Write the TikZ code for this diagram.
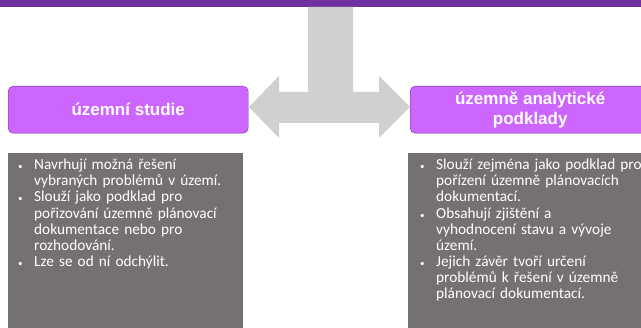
\documentclass[tikz,border=0pt]{standalone}
\usepackage{fontspec}
\setmainfont{Carlito}
\newfontfamily\headfont{Liberation Sans}
\usetikzlibrary{positioning,calc}
\definecolor{barpurple}{HTML}{7030A0}
\definecolor{boxviolet}{HTML}{CC66FF}
\definecolor{arrowgray}{HTML}{D0D0D0}
\definecolor{notegray}{HTML}{767171}

\newcommand{\bitem}{\par\noindent\hangindent=16pt\hangafter=1\makebox[16pt][l]{\small•}}

\begin{document}
\begin{tikzpicture}[
    x=1pt, y=-1pt,
    headbox/.style={rectangle, rounded corners=5pt, draw=barpurple, fill=boxviolet, minimum width=240pt, minimum height=47pt, inner sep=0pt, anchor=north west, align=center, text=white, font=\headfont\bfseries\fontsize{17}{20.5}\selectfont},
    notebox/.style={rectangle, fill=notegray, minimum height=180pt, inner sep=0pt, anchor=north west},
    notetext/.style={text width=#1, inner sep=0pt, anchor=north west, align=left, text=white, font=\fontsize{15.3}{16.1}\selectfont},
]
\useasboundingbox (0,0) rectangle (641,328);

% top bar
\fill[barpurple] (0,0) rectangle (641,7);

% headings
\node[headbox] (studie) at (8,86) {územní studie};
\node[headbox] (podklady) at (410,86) {územně analytické\\podklady};

% double arrow fed from above
\coordinate (ltip) at (249,107);
\coordinate (rtip) at (410,107);
\fill[arrowgray] (308,7) -- (353,7) -- (353,92) -- (379,92) -- (379,76) -- (rtip) -- (379,138) -- (379,123)
    -- (279,123) -- (279,138) -- (ltip) -- (279,76) -- (279,92) -- (308,92) -- cycle;

% notes
\node[notebox, minimum width=235pt] (leftnote) at (8,153) {};
\node[notebox, minimum width=240pt] (rightnote) at (408,153) {};

\node[notetext=225pt] (lefttext) at ($(leftnote.north west)+(10,0.5)$) {%
\bitem Navrhují možná řešení\newline vybraných problémů v území.
\bitem Slouží jako podklad pro\newline pořizování územně plánovací\newline dokumentace nebo pro\newline rozhodování.
\bitem Lze se od ní odchýlit.\par};

\node[notetext=240pt] (righttext) at ($(rightnote.north west)+(12,0.5)$) {%
\bitem Slouží zejména jako podklad pro\newline pořízení územně plánovacích\newline dokumentací.
\bitem Obsahují zjištění a\newline vyhodnocení stavu a vývoje\newline území.
\bitem Jejich závěr tvoří určení\newline problémů k řešení v územně\newline plánovací dokumentací.\par};

\end{tikzpicture}
\end{document}
